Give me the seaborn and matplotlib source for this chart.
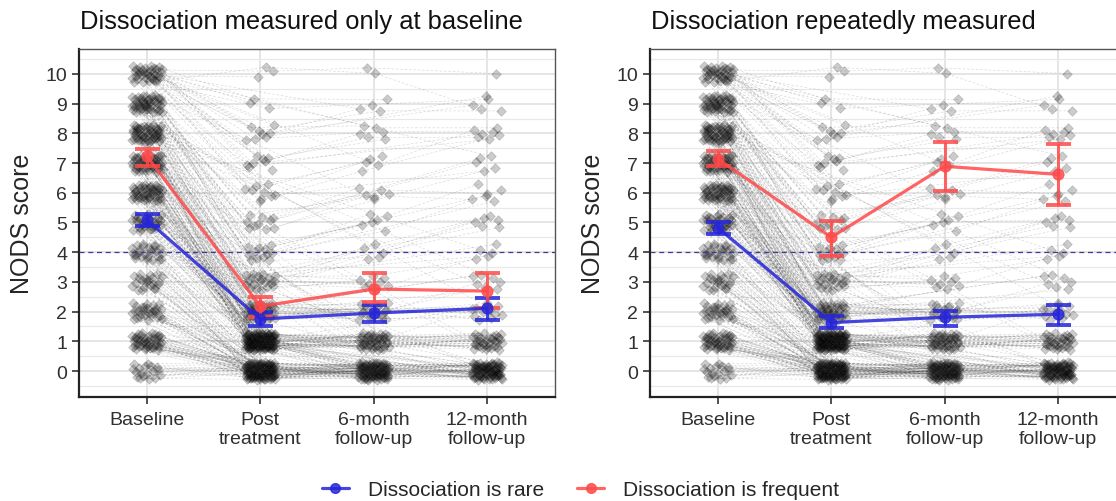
import numpy as np
import pandas as pd
import matplotlib
matplotlib.use("Agg")
import matplotlib.pyplot as plt
import seaborn as sns
from matplotlib.lines import Line2D
from matplotlib.ticker import MultipleLocator

# ---------------- data ----------------
times = ["Baseline", "Post\ntreatment", "6-month\nfollow-up", "12-month\nfollow-up"]
score_levels = list(range(11))
# estimated number of individual NODS scores at each level 0..10
count_baseline = [18, 42, 28, 22, 26, 30, 45, 48, 50, 45, 35]
count_post = [110, 120, 35, 20, 12, 10, 9, 8, 8, 3, 3]
count_6m = [85, 42, 18, 8, 5, 6, 6, 5, 6, 4, 2]
count_12m = [75, 32, 12, 7, 5, 6, 6, 5, 7, 5, 1]

titles = ["Dissociation measured only at baseline", "Dissociation repeatedly measured"]
group_labels = ["Dissociation is rare", "Dissociation is frequent"]

rare_mean_p1 = [5.08, 1.75, 1.95, 2.11]
rare_lo_p1 = [4.89, 1.50, 1.64, 1.73]
rare_hi_p1 = [5.29, 2.00, 2.22, 2.45]
freq_mean_p1 = [7.23, 2.18, 2.76, 2.69]
freq_lo_p1 = [6.91, 1.81, 2.32, 2.12]
freq_hi_p1 = [7.47, 2.48, 3.29, 3.29]

rare_mean_p2 = [4.82, 1.63, 1.81, 1.91]
rare_lo_p2 = [4.62, 1.45, 1.50, 1.56]
rare_hi_p2 = [5.03, 1.84, 2.03, 2.22]
freq_mean_p2 = [7.14, 4.50, 6.89, 6.62]
freq_lo_p2 = [6.91, 3.86, 6.05, 5.58]
freq_hi_p2 = [7.42, 5.06, 7.72, 7.65]

cutoff = 4

# ---------------- build individual records ----------------
def halton(i, b):
    f, r = 1.0, 0.0
    while i > 0:
        f /= b
        r += f * (i % b)
        i //= b
    return r

counts_all = [count_baseline, count_post, count_6m, count_12m]
N = sum(count_baseline)
rows = []
k = 1
for t, counts in enumerate(counts_all):
    vals = np.repeat(score_levels, counts)
    ids = np.round(np.linspace(0, N - 1, len(vals))).astype(int)
    for pid, v in zip(ids, vals):
        jx = (halton(k, 2) - 0.5) * 0.27
        jy = (halton(k, 3) - 0.5) * 0.58
        k += 1
        rows.append(dict(id=pid, t=t, score=v, x=t + jx, y=v + jy))
df = pd.DataFrame(rows).sort_values(["id", "t"])

# ---------------- figure ----------------
sns.set_theme(style="white")
plt.rcParams["font.family"] = ["Liberation Sans", "DejaVu Sans"]

W, H = 1116, 502
fig = plt.figure(figsize=(W / 100, H / 100), dpi=100)
BLUE = "#2626D9"
RED = "#FF4A4A"

panels = [
    (79, titles[0], (rare_mean_p1, rare_lo_p1, rare_hi_p1), (freq_mean_p1, freq_lo_p1, freq_hi_p1)),
    (650, titles[1], (rare_mean_p2, rare_lo_p2, rare_hi_p2), (freq_mean_p2, freq_lo_p2, freq_hi_p2)),
]
pw, ph = 476, 348
for left, title, rare, freq in panels:
    ax = fig.add_axes([left / W, (H - 398) / H, pw / W, ph / H])
    ax.set_xlim(-0.6, 3.6)
    ax.set_ylim(-0.875, 10.84)
    ax.yaxis.set_major_locator(MultipleLocator(1))
    ax.yaxis.set_minor_locator(MultipleLocator(0.5))
    ax.set_xticks(range(4))
    ax.set_xticklabels(times, fontsize=14, color="#303030", linespacing=1.15)
    ax.tick_params(axis="y", labelsize=14, labelcolor="#303030", length=5, width=1.2, left=True, color="#333333")
    ax.tick_params(axis="x", length=5, width=1.2, bottom=True, color="#333333", pad=5)
    ax.grid(True, which="major", color="#E3E3E3", lw=1.3)
    ax.grid(True, which="minor", axis="y", color="#E8E8E8", lw=0.9)
    ax.set_axisbelow(True)
    for s in ["top", "right"]:
        ax.spines[s].set_color("#555555")
        ax.spines[s].set_linewidth(1.0)
    for s in ["left", "bottom"]:
        ax.spines[s].set_color("#222222")
        ax.spines[s].set_linewidth(1.6)

    sns.lineplot(data=df, x="x", y="y", units="id", estimator=None, sort=False,
                 color="#303030", lw=0.45, alpha=0.2, linestyle=(0, (4, 3)), ax=ax, legend=False)
    sns.scatterplot(data=df, x="x", y="y", marker="D", s=24, color="#000000",
                    edgecolor="#000000", linewidth=0.5, alpha=0.2, ax=ax, legend=False)

    ax.axhline(cutoff, color="#3A3AA0", lw=0.9, ls=(0, (4, 3)), zorder=3)

    for (m, lo, hi), col in [(rare, BLUE), (freq, RED)]:
        m = np.array(m); lo = np.array(lo); hi = np.array(hi)
        ax.errorbar(range(4), m, yerr=[m - lo, hi - m], fmt="none", ecolor=col,
                    elinewidth=2.2, capsize=9, capthick=2.8, alpha=0.85, zorder=5)
        sns.lineplot(x=list(range(4)), y=list(m), color=col, lw=2.3, marker="o",
                     markersize=8, markeredgecolor=col, alpha=0.85, ax=ax, zorder=6, legend=False)

    ax.set_xlabel("")
    ax.set_ylabel("NODS score", fontsize=18, labelpad=8)
    fig.text((left + 1) / W, 1 - 22 / H, title, fontsize=18.4, ha="left", va="center", color="#111111")

handles = [Line2D([0], [0], color=BLUE, lw=2.3, marker="o", markersize=7, alpha=0.85),
           Line2D([0], [0], color=RED, lw=2.3, marker="o", markersize=7, alpha=0.85)]
fig.legend(handles, group_labels, loc="center", bbox_to_anchor=(0.52, 0.022), ncol=2,
           frameon=False, fontsize=15, handlelength=1.3, columnspacing=1.6, handletextpad=0.9)

fig.savefig("out.png", dpi=100)
